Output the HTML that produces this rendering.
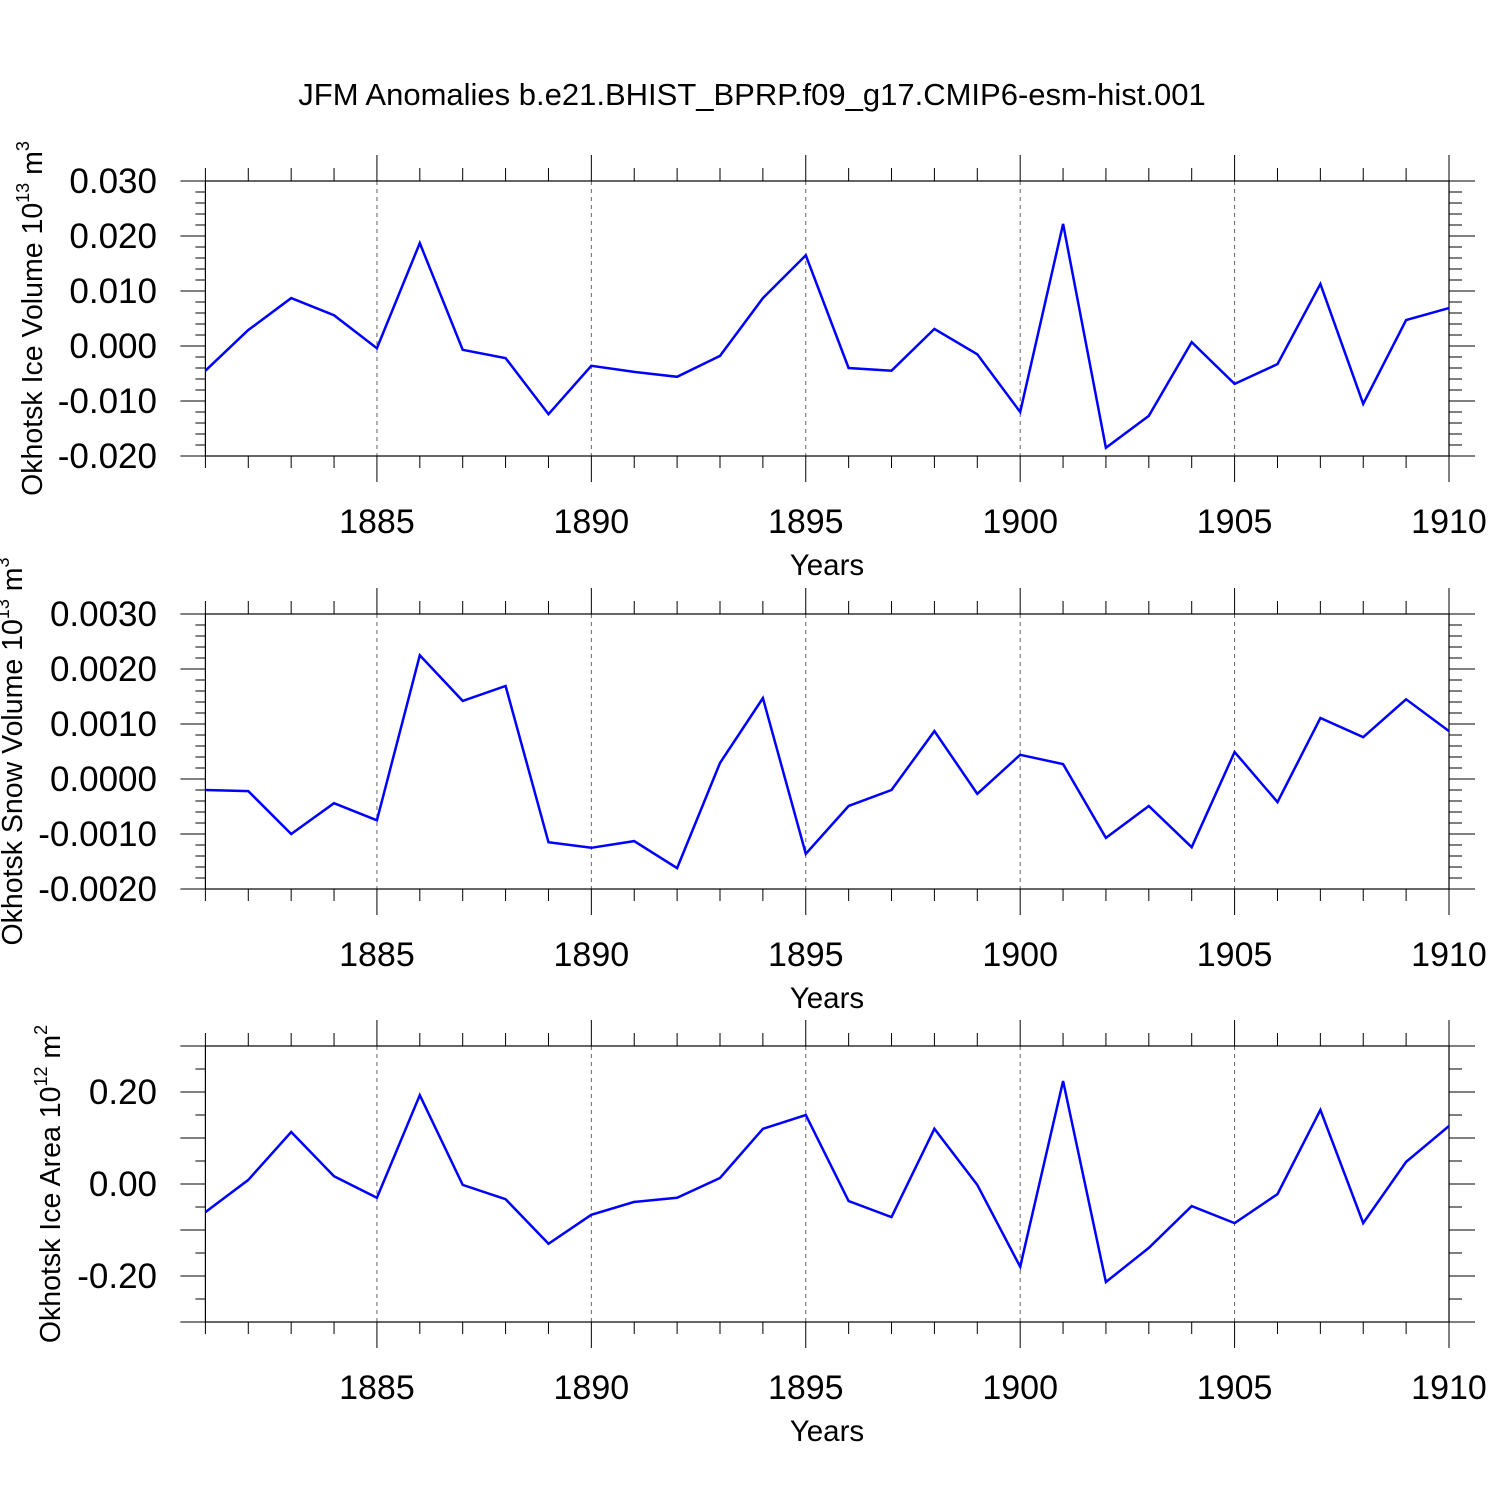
<!DOCTYPE html>
<html><head><meta charset="utf-8"><style>
body{margin:0;background:#fff;}
svg{display:block;font-family:"Liberation Sans",Arial,sans-serif;}
</style></head><body>
<svg id="c" width="1500" height="1500" viewBox="0 0 1500 1500">
<text x="752" y="105" font-size="31" text-anchor="middle">JFM Anomalies b.e21.BHIST_BPRP.f09_g17.CMIP6-esm-hist.001</text>
</svg>
<script>
const years = [1881,1882,1883,1884,1885,1886,1887,1888,1889,1890,1891,1892,1893,1894,1895,1896,1897,1898,1899,1900,1901,1902,1903,1904,1905,1906,1907,1908,1909,1910];
const iceVolume = [-0.0045,0.0029,0.0087,0.0056,-0.0004,0.0187,-0.0007,-0.0022,-0.0124,-0.0036,-0.0047,-0.0056,-0.0018,0.0087,0.0165,-0.004,-0.0045,0.0031,-0.0015,-0.012,0.0222,-0.0185,-0.0127,0.0007,-0.0069,-0.0033,0.0113,-0.0105,0.0047,0.0069];
const snowVolume = [-0.0002,-0.00022,-0.001,-0.00044,-0.00075,0.00225,0.00142,0.00169,-0.00115,-0.00125,-0.00113,-0.00162,0.00029,0.00147,-0.00136,-0.00049,-0.0002,0.00087,-0.00027,0.00044,0.00027,-0.00107,-0.00049,-0.00124,0.00049,-0.00042,0.00111,0.00076,0.00145,0.00087];
const iceArea = [-0.061,0.009,0.113,0.017,-0.03,0.193,-0.002,-0.033,-0.13,-0.067,-0.039,-0.03,0.013,0.12,0.15,-0.037,-0.072,0.12,-0.002,-0.18,0.224,-0.213,-0.139,-0.048,-0.085,-0.022,0.161,-0.085,0.048,0.126];
const xTickYears = [1885,1890,1895,1900,1905,1910];
const ticks1 = ["0.030","0.020","0.010","0.000","-0.010","-0.020"];
const ticks2 = ["0.0030","0.0020","0.0010","0.0000","-0.0010","-0.0020"];
const ticks3 = ["0.20","0.00","-0.20"];

const NS="http://www.w3.org/2000/svg";
const svg=document.getElementById('c');
function el(t,a,p){const e=document.createElementNS(NS,t);for(const k in a)e.setAttribute(k,a[k]);(p||svg).appendChild(e);return e;}
const X0=205.4,X1=1449,Y0=1881,Y1=1910;
const xs=v=>X0+(v-Y0)/(Y1-Y0)*(X1-X0);

function panel(cfg){
  const g=el('g',{});
  
  
  const ys=v=>cfg.top+(cfg.max-v)/(cfg.max-cfg.min)*(cfg.bot-cfg.top);
  xTickYears.forEach(y=>{ if(y<1910) el('line',{x1:xs(y),x2:xs(y),y1:cfg.top,y2:cfg.bot,stroke:'#666','stroke-width':1,'stroke-dasharray':'4,4'},g);});
  for(let y=Y0;y<=Y1;y++){
    const maj=y%5===0;
    el('line',{x1:xs(y),x2:xs(y),y1:cfg.top,y2:cfg.top-(maj?26:13),stroke:'#000','stroke-width':1},g);
    el('line',{x1:xs(y),x2:xs(y),y1:cfg.bot,y2:cfg.bot+(maj?26:12),stroke:'#000','stroke-width':1},g);
  }
  for(let v=cfg.min;v<=cfg.max+1e-12;v+=cfg.minor){
    const yy=ys(v);
    el('line',{x1:X0,x2:X0-10,y1:yy,y2:yy,stroke:'#000'},g);
    el('line',{x1:X1,x2:X1+13,y1:yy,y2:yy,stroke:'#000'},g);
  }
  for(let v=cfg.min;v<=cfg.max+1e-12;v+=cfg.major){
    const yy=ys(v);
    el('line',{x1:X0,x2:X0-25,y1:yy,y2:yy,stroke:'#000'},g);
    el('line',{x1:X1,x2:X1+26,y1:yy,y2:yy,stroke:'#000'},g);
  }
  el('rect',{x:X0,y:cfg.top,width:X1-X0,height:cfg.bot-cfg.top,fill:'none',stroke:'#000','stroke-width':1.2},g);
  cfg.labels.forEach(l=>{
    const t=el('text',{x:157,y:ys(parseFloat(l))+12,'font-size':35,'text-anchor':'end'},g);
    t.textContent=l;
    
    
  });
  xTickYears.forEach(y=>{
    const t=el('text',{x:xs(y),y:cfg.bot+77,'font-size':34,'text-anchor':'middle'},g);
    t.textContent=y;
    
    
  });
  const xt=el('text',{x:827,y:cfg.bot+119,'font-size':29.5,'text-anchor':'middle'},g);
  xt.textContent='Years';
  
  
  const yt=el('text',{transform:`translate(${cfg.tx},${(cfg.top+cfg.bot)/2}) rotate(-90)`,'font-size':28.5,'text-anchor':'middle'},g);
  yt.innerHTML=cfg.title;
  
  
  const pts=cfg.data.map((v,i)=>xs(years[i]).toFixed(1)+','+ys(v).toFixed(1)).join(' ');
  const pl=el('polyline',{points:pts,fill:'none',stroke:'#0000ff','stroke-width':2.5,'stroke-linejoin':'miter'},g);
  
  
}
panel({name:'ice-volume-panel',top:181,bot:456,max:0.03,min:-0.02,major:0.01,minor:0.002,labels:ticks1,data:iceVolume,tx:42,
  title:'Okhotsk Ice Volume 10<tspan font-size="18" dy="-13">13</tspan><tspan dy="13"> m</tspan><tspan font-size="18" dy="-13">3</tspan>'});
panel({name:'snow-volume-panel',top:614,bot:889,max:0.003,min:-0.002,major:0.001,minor:0.0002,labels:ticks2,data:snowVolume,tx:22,
  title:'Okhotsk Snow Volume 10<tspan font-size="18" dy="-13">13</tspan><tspan dy="13"> m</tspan><tspan font-size="18" dy="-13">3</tspan>'});
panel({name:'ice-area-panel',top:1046,bot:1322,max:0.3,min:-0.3,major:0.1,minor:0.05,labels:ticks3,data:iceArea,tx:60,
  title:'Okhotsk Ice Area 10<tspan font-size="18" dy="-13">12</tspan><tspan dy="13"> m</tspan><tspan font-size="18" dy="-13">2</tspan>'});
</script>
</body></html>
